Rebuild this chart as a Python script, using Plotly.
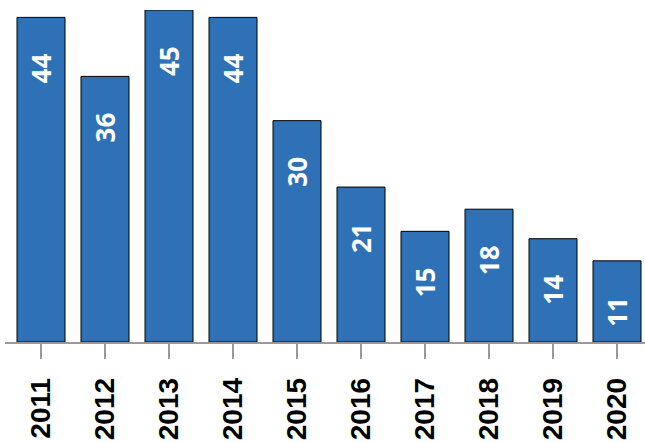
import plotly.graph_objects as go

years = ["2011", "2012", "2013", "2014", "2015", "2016", "2017", "2018", "2019", "2020"]
counts = [44, 36, 45, 44, 30, 21, 15, 18, 14, 11]

bar_color = "#2E71B7"

fig = go.Figure()
fig.add_trace(go.Bar(
    x=years, y=counts,
    marker=dict(color=bar_color, line=dict(color="black", width=1)),
    width=0.75,
    hoverinfo="x+y",
))

# value labels sit a fixed distance below the top of each bar
# (category axis: annotations use the category's serial index)
for i, v in enumerate(counts):
    fig.add_annotation(
        x=i, y=v, xref="x", yref="y", text="<b>%d</b>" % v, showarrow=False,
        textangle=-90, yanchor="middle", xanchor="center", yshift=-51,
        font=dict(family="Open Sans", size=26, color="white"),
    )

fig.update_layout(
    width=645, height=442,
    margin=dict(l=5, r=0, t=10, b=100),
    plot_bgcolor="white", paper_bgcolor="white",
    showlegend=False,
    xaxis=dict(
        type="category", range=[-0.5625, 9.4375],
        showline=True, linecolor="#999999", linewidth=1.5,
        ticks="outside", ticklen=15, tickcolor="#999999", tickwidth=1.5,
        tickangle=-90, ticklabelstandoff=8,
        tickfont=dict(family="Liberation Sans", size=28, color="black", weight="bold"),
        showgrid=False,
    ),
    yaxis=dict(range=[0, 45], showticklabels=False, showline=False,
               showgrid=False, zeroline=False),
)

fig.write_html("out.html", config={"displayModeBar": False},
               post_script="document.body.style.margin='0';")
